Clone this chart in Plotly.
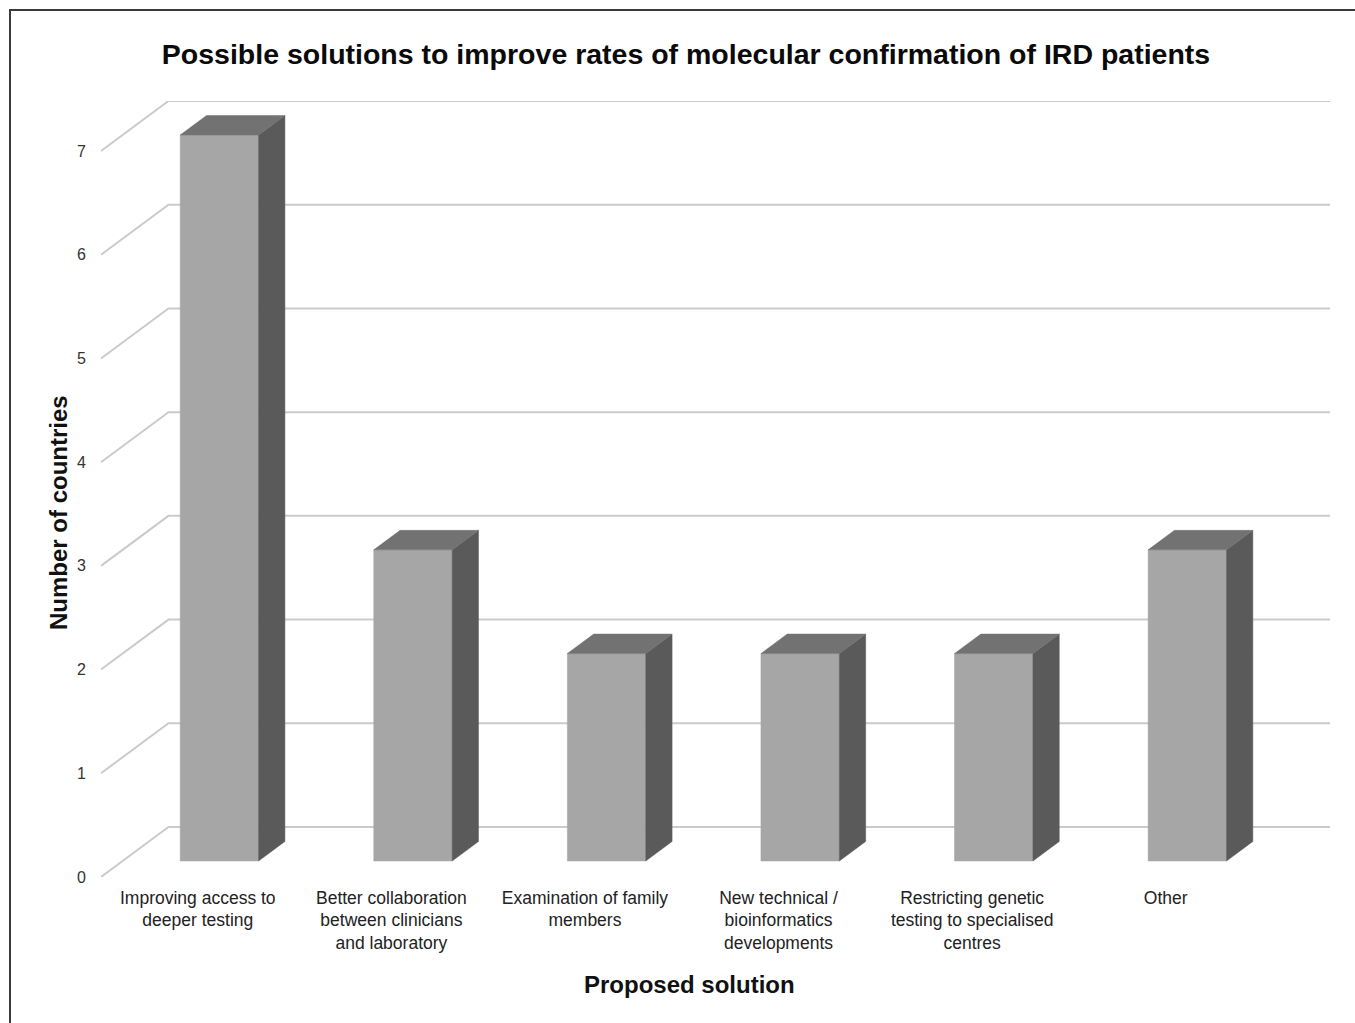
import plotly.graph_objects as go

# Survey results: number of countries proposing each solution
categories = [
    "Improving access to<br>deeper testing",
    "Better collaboration<br>between clinicians<br>and laboratory",
    "Examination of family<br>members",
    "New technical /<br>bioinformatics<br>developments",
    "Restricting genetic<br>testing to specialised<br>centres",
    "Other",
]
counts = [7, 3, 2, 2, 2, 3]
y_ticks = [0, 1, 2, 3, 4, 5, 6, 7]

FONT = "Liberation Sans, Arial, sans-serif"

# Oblique projection of the depth axis (one full floor depth) in data units
DEPTH_DX = 0.3486
DEPTH_DY = 0.482
BAR_FRONT = 0.32      # depth at which the front face of each column sits
BAR_DEPTH = 0.39      # column depth as a fraction of the floor depth
BAR_HALF = 0.2025     # half width of a column (category units)

n = len(categories)
x_lo = -0.5
x_hi = n - 0.5 + DEPTH_DX
y_hi = max(y_ticks) + DEPTH_DY

fig = go.Figure()

# Wall gridlines: diagonal on the side wall, horizontal on the back wall
gx, gy = [], []
for v in y_ticks:
    gx += [x_lo, x_lo + DEPTH_DX, x_hi, None]
    gy += [v, v + DEPTH_DY, v + DEPTH_DY, None]
fig.add_trace(go.Scatter(
    x=gx, y=gy, mode="lines",
    line=dict(color="#cbcbcb", width=2),
    hoverinfo="skip", showlegend=False,
))

# 3D columns built from front, side and top faces
fx, fy, sx, sy, tx, ty = [], [], [], [], [], []
sdx = BAR_FRONT * DEPTH_DX
sdy = BAR_FRONT * DEPTH_DY
ddx = BAR_DEPTH * DEPTH_DX
ddy = BAR_DEPTH * DEPTH_DY
for i, v in enumerate(counts):
    x0 = i + sdx - BAR_HALF
    x1 = i + sdx + BAR_HALF
    b = sdy
    t = v + sdy
    fx += [x0, x1, x1, x0, x0, None]
    fy += [b, b, t, t, b, None]
    sx += [x1, x1 + ddx, x1 + ddx, x1, x1, None]
    sy += [b, b + ddy, t + ddy, t, b, None]
    tx += [x0, x1, x1 + ddx, x0 + ddx, x0, None]
    ty += [t, t, t + ddy, t + ddy, t, None]

for xs, ys, col in [(fx, fy, "#a6a6a6"), (sx, sy, "#5a5a5a"), (tx, ty, "#727272")]:
    fig.add_trace(go.Scatter(
        x=xs, y=ys, mode="lines", fill="toself",
        fillcolor=col, line=dict(color=col, width=0.5),
        hoverinfo="skip", showlegend=False,
    ))

# Plot-area geometry in pixels (used to place the frame and titles)
W, H = 1355, 1023
ML, MR, MT, MB = 101, 25, 101, 146
PW, PH = W - ML - MR, H - MT - MB


def px_to_paper(px, py):
    return (px - ML) / PW, (H - MB - py) / PH


fx0, fy1 = px_to_paper(10, 10)
fx1, fy0 = px_to_paper(W + 20, H + 20)
fig.add_shape(
    type="rect", xref="paper", yref="paper",
    x0=fx0, x1=fx1, y0=fy0, y1=fy1,
    line=dict(color="#3a3a3a", width=2), fillcolor="rgba(0,0,0,0)",
    layer="above",
)

ax, ay = px_to_paper(689, 984)
fig.add_annotation(
    x=ax, y=ay, xref="paper", yref="paper", text="<b>Proposed solution</b>",
    showarrow=False, xanchor="center", yanchor="middle",
    font=dict(family=FONT, size=24, color="#111111"),
)
ax, ay = px_to_paper(58, 513)
fig.add_annotation(
    x=ax, y=ay, xref="paper", yref="paper", text="<b>Number of countries</b>",
    showarrow=False, xanchor="center", yanchor="middle", textangle=-90,
    font=dict(family=FONT, size=24, color="#111111"),
)

fig.update_layout(
    width=W, height=H,
    margin=dict(l=ML, r=MR, t=MT, b=MB),
    paper_bgcolor="white", plot_bgcolor="white",
    title=dict(
        text="<b>Possible solutions to improve rates of molecular confirmation of IRD patients</b>",
        x=686 / W, xanchor="center", xref="container",
        y=1 - 54 / H, yanchor="middle", yref="container",
        font=dict(family=FONT, size=28.5, color="#0a0a0a"),
    ),
    xaxis=dict(
        range=[x_lo, x_hi], tickmode="array",
        tickvals=list(range(n)), ticktext=categories,
        showgrid=False, zeroline=False, showline=False, ticks="",
        tickfont=dict(family=FONT, size=17.5, color="#222222"),
        ticklabelstandoff=8, fixedrange=True,
    ),
    yaxis=dict(
        range=[0, y_hi], tickmode="array", tickvals=y_ticks,
        ticktext=[str(v) for v in y_ticks],
        showgrid=False, zeroline=False, showline=False, ticks="",
        tickfont=dict(family=FONT, size=16, color="#333333"),
        ticklabelstandoff=14, fixedrange=True,
    ),
    showlegend=False,
)

fig.write_html("out.html")
